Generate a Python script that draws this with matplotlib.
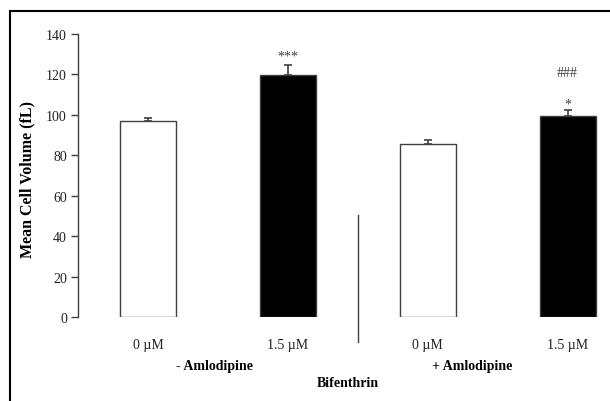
import numpy as np
import matplotlib
matplotlib.use("Agg")
import matplotlib.pyplot as plt
from matplotlib.patches import Rectangle

plt.rcParams['font.family'] = ['Liberation Serif', 'DejaVu Serif']

# Bar data (mean cell volume, fL)
categories = ['0 \u00b5M', '1.5 \u00b5M', '0 \u00b5M', '1.5 \u00b5M']
means = [97, 119.5, 85.6, 99.4]
errors = [1.2, 5.0, 1.8, 3.0]
colors = ['white', 'black', 'white', 'black']
marks = ['', '***', '', '*']
mark_y = [0, 129.3, 0, 105.3]
marks2 = ['', '', '', '###']
mark2_y = [0, 0, 0, 120.8]
groups = ['- Amlodipine', '+ Amlodipine']

x = np.arange(len(categories))
grey = '#404040'

fig = plt.figure(figsize=(6.1, 4.02), dpi=100)
ax = fig.add_axes([0.1279, 0.2090, 0.8713, 0.7040])

ax.bar(x, means, width=0.4, color=colors, edgecolor=grey, linewidth=1.0)
ax.errorbar(x, means, yerr=[np.zeros(len(errors)), errors], fmt='none',
            ecolor=grey, elinewidth=1.2, capsize=2.6, capthick=1.2)

# significance marks
for xi, s, yy in zip(x, marks, mark_y):
    if s:
        ax.text(xi, yy, s, ha='center', va='center', fontsize=10, color=grey)
for xi, s, yy in zip(x, marks2, mark2_y):
    if s:
        ax.text(xi, yy, s, ha='center', va='center', fontsize=10, color=grey)

ax.set_xlim(-0.5, 3.3)
ax.set_ylim(0, 140)
ax.set_yticks(np.arange(0, 141, 20))
ax.set_xticks(x)
ax.set_xticklabels(categories)
ax.tick_params(axis='x', length=0, pad=15, labelsize=10, labelcolor='#202020')
ax.tick_params(axis='y', direction='out', length=5, width=1, color=grey,
               labelsize=10, labelcolor='#202020', pad=3)

for s in ['top', 'right', 'bottom']:
    ax.spines[s].set_visible(False)
ax.spines['left'].set_color(grey)
ax.spines['left'].set_linewidth(1)

# separator between groups
ax.plot([1.5, 1.5], [50.5, -12.4], color=grey, lw=1, clip_on=False)

tr = ax.get_xaxis_transform()
ax.text(0.475, -0.170, groups[0], transform=tr, ha='center', va='center',
        fontsize=10, fontweight='bold')
ax.text(2.32, -0.170, groups[1], transform=tr, ha='center', va='center',
        fontsize=10, fontweight='bold')
ax.text(1.43, -0.230, 'Bifenthrin', transform=tr, ha='center', va='center',
        fontsize=10, fontweight='bold')

ax.set_ylabel('Mean Cell Volume (fL)', fontsize=11.5, fontweight='bold')
ax.yaxis.set_label_coords(-0.081, 0.49)

# outer frame (cropped on right and bottom)
fig.patches.append(Rectangle((0.016, -0.2), 1.2, 1.17, transform=fig.transFigure,
                             fill=False, edgecolor='black', linewidth=1.5))

fig.savefig('out.png', dpi=100)
